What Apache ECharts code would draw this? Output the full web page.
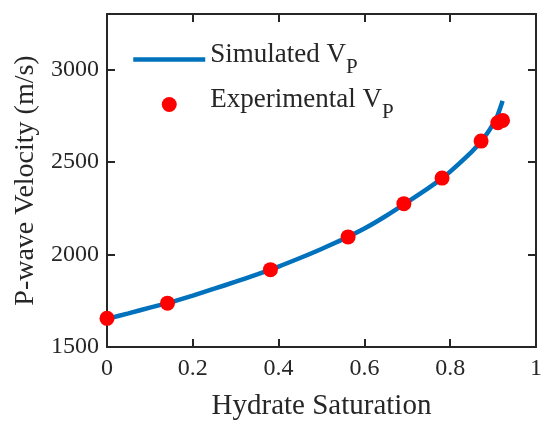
<!DOCTYPE html>
<html>
<head>
<meta charset="utf-8">
<script src="https://cdn.jsdelivr.net/npm/echarts@6/dist/echarts.min.js"></script>
<style>
html,body{margin:0;padding:0;background:#fff;}
#chart{width:550px;height:430px;}
</style>
</head>
<body>
<div id="chart"></div>
<script>
// ---- data ----
const simX = [0, 0.05, 0.10, 0.141, 0.15, 0.20, 0.25, 0.30, 0.35, 0.40, 0.45, 0.50, 0.55, 0.60, 0.65, 0.70, 0.75, 0.78, 0.80, 0.85, 0.87, 0.88, 0.89, 0.90, 0.91, 0.92, 0.922];
const simVp = [1652, 1682, 1713, 1737, 1743, 1778, 1815, 1853, 1893, 1935, 1981, 2030, 2082, 2140, 2208, 2283, 2360, 2410, 2448, 2555, 2605, 2635, 2668, 2705, 2750, 2815, 2830];
const expX = [0, 0.141, 0.381, 0.562, 0.692, 0.781, 0.872, 0.911, 0.922];
const expVp = [1655, 1737, 1918, 2095, 2275, 2413, 2613, 2712, 2725];
const xTickLabels = ['0', '0.2', '0.4', '0.6', '0.8', '1'];
const yTickLabels = ['1500', '2000', '2500', '3000'];
const seriesNames = ['Simulated V_P', 'Experimental V_P'];

const FONT = 'Liberation Serif';
const TXT = '#262626';

function xLabel(v) {
  const s = xTickLabels.find(t => Math.abs(parseFloat(t) - v) < 1e-6);
  return s === undefined ? '' : s;
}
function yLabel(v) {
  const s = yTickLabels.find(t => Math.abs(parseFloat(t) - v) < 1e-6);
  return s === undefined ? '' : s;
}

const axisLine = {show: true, onZero: false, lineStyle: {color: TXT, width: 2}};
const axisTick = {show: true, inside: true, length: 8, lineStyle: {color: TXT, width: 2}};

const chart = echarts.init(document.getElementById('chart'));
chart.setOption({
  animation: false,
  backgroundColor: '#fff',
  grid: {left: 107, right: 14, top: 14, bottom: 83, containLabel: false, outerBoundsMode: 'none'},
  legend: {
    orient: 'vertical',
    left: 126,
    top: 36,
    itemWidth: 72,
    itemHeight: 15,
    itemGap: 8,
    lineStyle: {width: 4.5},
    data: [
      {name: seriesNames[0], itemStyle: {opacity: 0}},
      {name: seriesNames[1]}
    ],
    formatter: function (name) {
      const parts = name.split('_');
      return '{a|' + parts[0] + '}{s|' + parts[1] + '}';
    },
    textStyle: {
      fontFamily: FONT,
      fontSize: 27,
      color: TXT,
      rich: {
        a: {fontFamily: FONT, fontSize: 27, lineHeight: 27, color: TXT, verticalAlign: 'top'},
        s: {fontFamily: FONT, fontSize: 21, color: TXT, verticalAlign: 'bottom', padding: [16, 0, 0, 0]}
      }
    }
  },
  xAxis: [
    {
      type: 'value', min: 0, max: 1, interval: 0.2, position: 'bottom',
      axisLine: axisLine, axisTick: axisTick, splitLine: {show: false},
      axisLabel: {margin: 10, fontFamily: FONT, fontSize: 24, color: TXT, formatter: xLabel},
      name: 'Hydrate Saturation', nameLocation: 'middle', nameGap: 45,
      nameTextStyle: {fontFamily: FONT, fontSize: 29, color: TXT}
    },
    {
      type: 'value', min: 0, max: 1, interval: 0.2, position: 'top',
      axisLine: axisLine, axisTick: axisTick, splitLine: {show: false},
      axisLabel: {show: false}
    }
  ],
  yAxis: [
    {
      type: 'value', min: 1500, max: 3300, interval: 500, position: 'left',
      axisLine: axisLine, axisTick: axisTick, splitLine: {show: false},
      axisLabel: {margin: 8, fontFamily: FONT, fontSize: 24, color: TXT, formatter: yLabel},
      name: 'P-wave Velocity (m/s)', nameLocation: 'middle', nameGap: 67,
      nameTextStyle: {fontFamily: FONT, fontSize: 28, color: TXT}
    },
    {
      type: 'value', min: 1500, max: 3300, interval: 500, position: 'right',
      axisLine: axisLine, axisTick: axisTick, splitLine: {show: false},
      axisLabel: {show: false}
    }
  ],
  series: [
    {
      name: seriesNames[0],
      type: 'line',
      data: simX.map((x, i) => [x, simVp[i]]),
      showSymbol: false,
      symbol: 'none',
      smooth: 0.3,
      lineStyle: {color: '#0072BD', width: 4.5},
      itemStyle: {color: '#0072BD'},
      z: 2
    },
    {
      name: seriesNames[1],
      type: 'scatter',
      data: expX.map((x, i) => [x, expVp[i]]),
      symbol: 'circle',
      symbolSize: 15,
      itemStyle: {color: '#FF0000', opacity: 1},
      z: 3
    }
  ]
});
</script>
</body>
</html>
